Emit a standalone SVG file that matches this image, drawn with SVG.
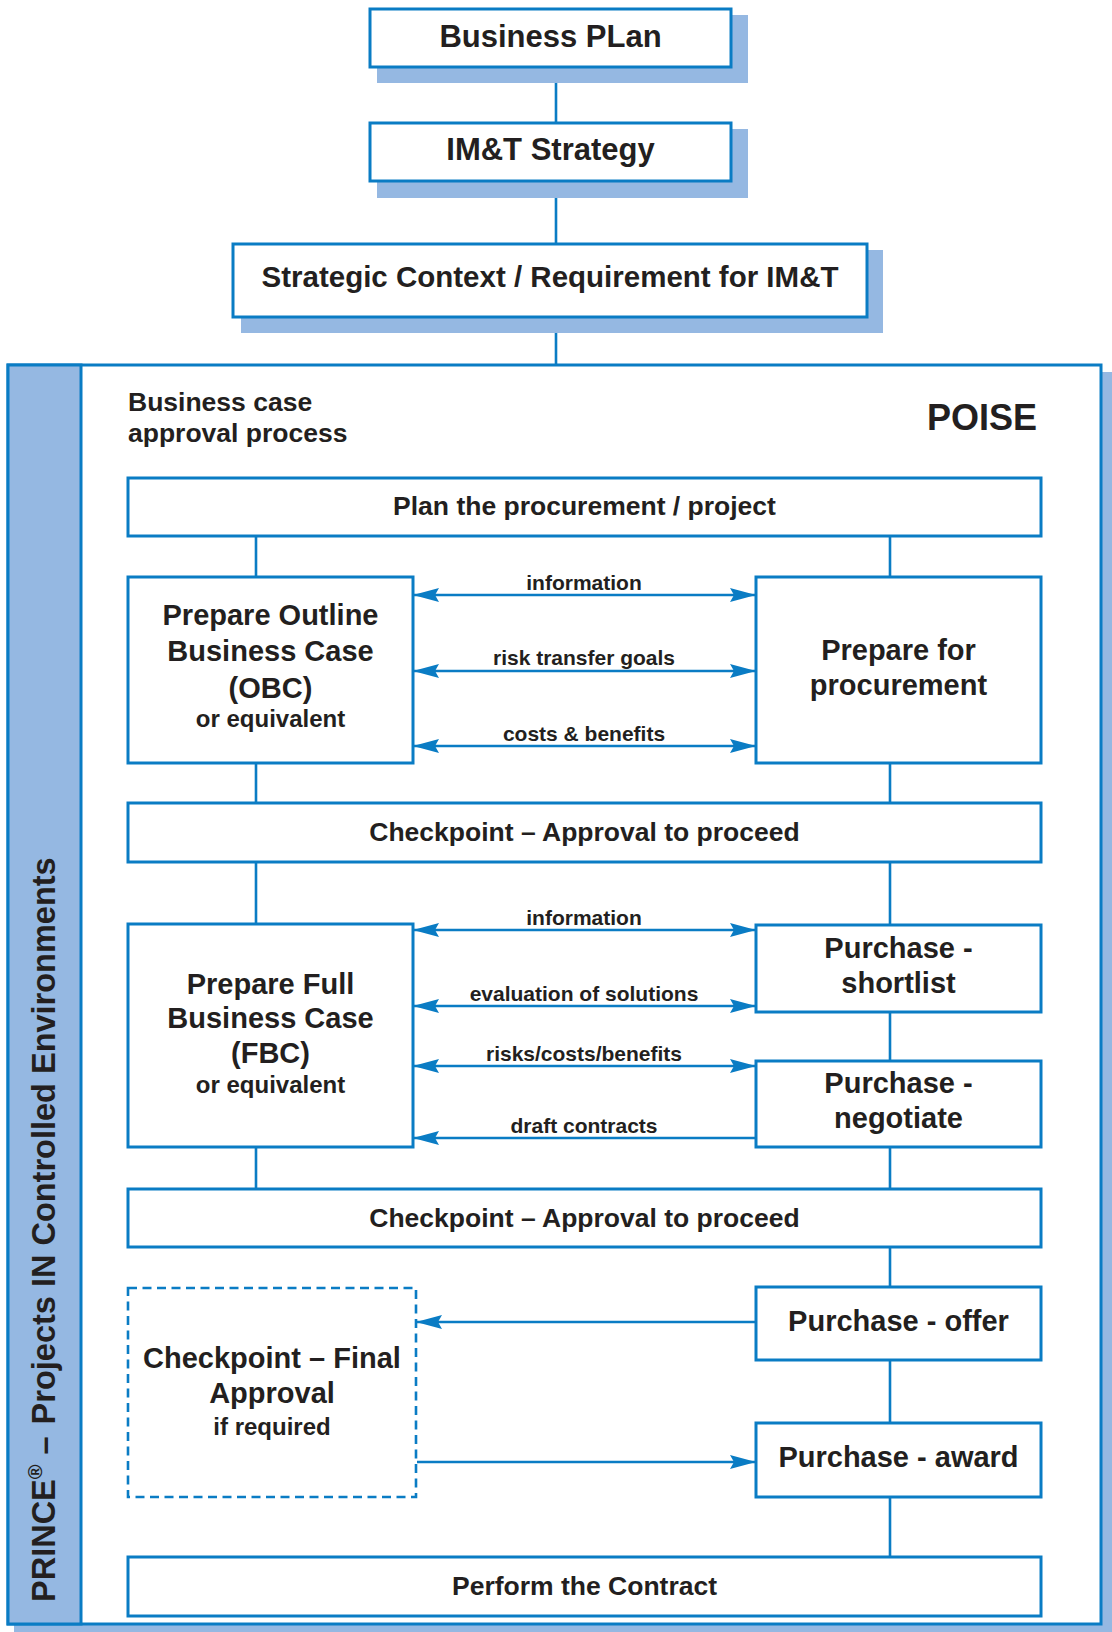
<svg xmlns="http://www.w3.org/2000/svg" width="1112" height="1632" viewBox="0 0 1112 1632">
  <defs>
    <style>
      .box { fill: #ffffff; stroke: #0a7cc4; stroke-width: 3; }
      .dash { fill: #ffffff; stroke: #0a7cc4; stroke-width: 2.6; stroke-dasharray: 9 5.5; }
      .shadow { fill: #95b8e2; }
      .band { fill: #95b8e2; stroke: #0a7cc4; stroke-width: 3; }
      .line { fill: none; stroke: #0a7cc4; stroke-width: 2.6; }
      .flow { fill: none; stroke: #0a7cc4; stroke-width: 2.4; }
      text { font-family: "Liberation Sans", Arial, Helvetica, sans-serif; font-weight: bold; fill: #231f20; }
      .c { text-anchor: middle; }
      .t29 { font-size: 29px; }
      .t31 { font-size: 31px; }
      .t26 { font-size: 26.5px; }
      .t24 { font-size: 24px; }
      .t21 { font-size: 21px; }
    </style>
    <marker id="arrow" viewBox="0 0 26 14" refX="25" refY="7" markerWidth="26" markerHeight="14" markerUnits="userSpaceOnUse" orient="auto-start-reverse">
      <path d="M26,7 L0,0 L4,7 L0,14 Z" fill="#0a7cc4"/>
    </marker>
  </defs>

  <rect width="1112" height="1632" fill="#ffffff"/>

  <!-- outer POISE / PRINCE frame -->
  <g id="frame">
    <rect class="shadow" x="14" y="372" width="1098" height="1260"/>
    <rect class="box" x="8" y="365" width="1093" height="1259"/>
    <rect class="band" x="8" y="365" width="73" height="1259"/>
    <text transform="translate(55,1602) rotate(-90)" style="font-size:32.5px">PRINCE<tspan style="font-size:20px" dy="-13">®</tspan><tspan dy="13" dx="10">–</tspan><tspan dx="12">Projects IN Controlled Environments</tspan></text>
    <text x="128" y="411" style="font-size:26.5px">Business case</text>
    <text x="128" y="442" style="font-size:26.5px">approval process</text>
    <text x="927" y="430" style="font-size:36px">POISE</text>
  </g>

  <!-- connectors -->
  <g id="connectors">
    <path class="line" d="M556,67 V123 M556,181 V244 M556,317 V365"/>
    <path class="line" d="M256,536 V577 M256,763 V803 M256,862 V924 M256,1147 V1189"/>
    <path class="line" d="M890,536 V577 M890,763 V803 M890,862 V925 M890,1012 V1061 M890,1147 V1189 M890,1247 V1287 M890,1360 V1423 M890,1497 V1557"/>
    <path class="flow" d="M414,595 H755" marker-start="url(#arrow)" marker-end="url(#arrow)"/>
    <path class="flow" d="M414,671 H755" marker-start="url(#arrow)" marker-end="url(#arrow)"/>
    <path class="flow" d="M414,746 H755" marker-start="url(#arrow)" marker-end="url(#arrow)"/>
    <path class="flow" d="M414,930 H755" marker-start="url(#arrow)" marker-end="url(#arrow)"/>
    <path class="flow" d="M414,1006 H755" marker-start="url(#arrow)" marker-end="url(#arrow)"/>
    <path class="flow" d="M414,1066 H755" marker-start="url(#arrow)" marker-end="url(#arrow)"/>
    <path class="flow" d="M755,1138 H414" marker-end="url(#arrow)"/>
    <path class="flow" d="M755,1322 H417" marker-end="url(#arrow)"/>
    <path class="flow" d="M417,1462 H755" marker-end="url(#arrow)"/>
    <text class="c t21" x="584" y="590">information</text>
    <text class="c t21" x="584" y="665">risk transfer goals</text>
    <text class="c t21" x="584" y="741">costs &amp; benefits</text>
    <text class="c t21" x="584" y="925">information</text>
    <text class="c t21" x="584" y="1001">evaluation of solutions</text>
    <text class="c t21" x="584" y="1061">risks/costs/benefits</text>
    <text class="c t21" x="584" y="1133">draft contracts</text>
  </g>

  <g id="business-plan">
    <rect class="shadow" x="377" y="15" width="371" height="68"/>
    <rect class="box" x="370" y="9" width="361" height="58"/>
    <text class="c t31" x="550.5" y="47">Business PLan</text>
  </g>

  <g id="imt-strategy">
    <rect class="shadow" x="377" y="129" width="371" height="69"/>
    <rect class="box" x="370" y="123" width="361" height="58"/>
    <text class="c t31" x="550.5" y="160">IM&amp;T Strategy</text>
  </g>

  <g id="strategic-context">
    <rect class="shadow" x="241" y="250" width="642" height="83"/>
    <rect class="box" x="233" y="244" width="634" height="73"/>
    <text class="c" x="550" y="287" style="font-size:29.5px">Strategic Context / Requirement for IM&amp;T</text>
  </g>

  <g id="plan-procurement">
    <rect class="box" x="128" y="478" width="913" height="58"/>
    <text class="c t26" x="584.5" y="515">Plan the procurement / project</text>
  </g>

  <g id="outline-business-case">
    <rect class="box" x="128" y="577" width="285" height="186"/>
    <text class="c t29" x="270.5" y="625">Prepare Outline</text>
    <text class="c t29" x="270.5" y="661">Business Case</text>
    <text class="c t29" x="270.5" y="698">(OBC)</text>
    <text class="c t24" x="270.5" y="727">or equivalent</text>
  </g>

  <g id="prepare-procurement">
    <rect class="box" x="756" y="577" width="285" height="186"/>
    <text class="c t29" x="898.5" y="660">Prepare for</text>
    <text class="c t29" x="898.5" y="695">procurement</text>
  </g>

  <g id="checkpoint-1">
    <rect class="box" x="128" y="803" width="913" height="59"/>
    <text class="c t26" x="584.5" y="841">Checkpoint – Approval to proceed</text>
  </g>

  <g id="full-business-case">
    <rect class="box" x="128" y="924" width="285" height="223"/>
    <text class="c t29" x="270.5" y="994">Prepare Full</text>
    <text class="c t29" x="270.5" y="1028">Business Case</text>
    <text class="c t29" x="270.5" y="1063">(FBC)</text>
    <text class="c t24" x="270.5" y="1093">or equivalent</text>
  </g>

  <g id="purchase-shortlist">
    <rect class="box" x="756" y="925" width="285" height="87"/>
    <text class="c t29" x="898.5" y="958">Purchase -</text>
    <text class="c t29" x="898.5" y="993">shortlist</text>
  </g>

  <g id="purchase-negotiate">
    <rect class="box" x="756" y="1061" width="285" height="86"/>
    <text class="c t29" x="898.5" y="1093">Purchase -</text>
    <text class="c t29" x="898.5" y="1128">negotiate</text>
  </g>

  <g id="checkpoint-2">
    <rect class="box" x="128" y="1189" width="913" height="58"/>
    <text class="c t26" x="584.5" y="1227">Checkpoint – Approval to proceed</text>
  </g>

  <g id="final-approval">
    <rect class="dash" x="128" y="1288" width="288" height="209"/>
    <text class="c t29" x="272" y="1368">Checkpoint – Final</text>
    <text class="c t29" x="272" y="1403">Approval</text>
    <text class="c t24" x="272" y="1435">if required</text>
  </g>

  <g id="purchase-offer">
    <rect class="box" x="756" y="1287" width="285" height="73"/>
    <text class="c t29" x="898.5" y="1331">Purchase - offer</text>
  </g>

  <g id="purchase-award">
    <rect class="box" x="756" y="1423" width="285" height="74"/>
    <text class="c t29" x="898.5" y="1467">Purchase - award</text>
  </g>

  <g id="perform-contract">
    <rect class="box" x="128" y="1557" width="913" height="59"/>
    <text class="c t26" x="584.5" y="1595">Perform the Contract</text>
  </g>
</svg>
